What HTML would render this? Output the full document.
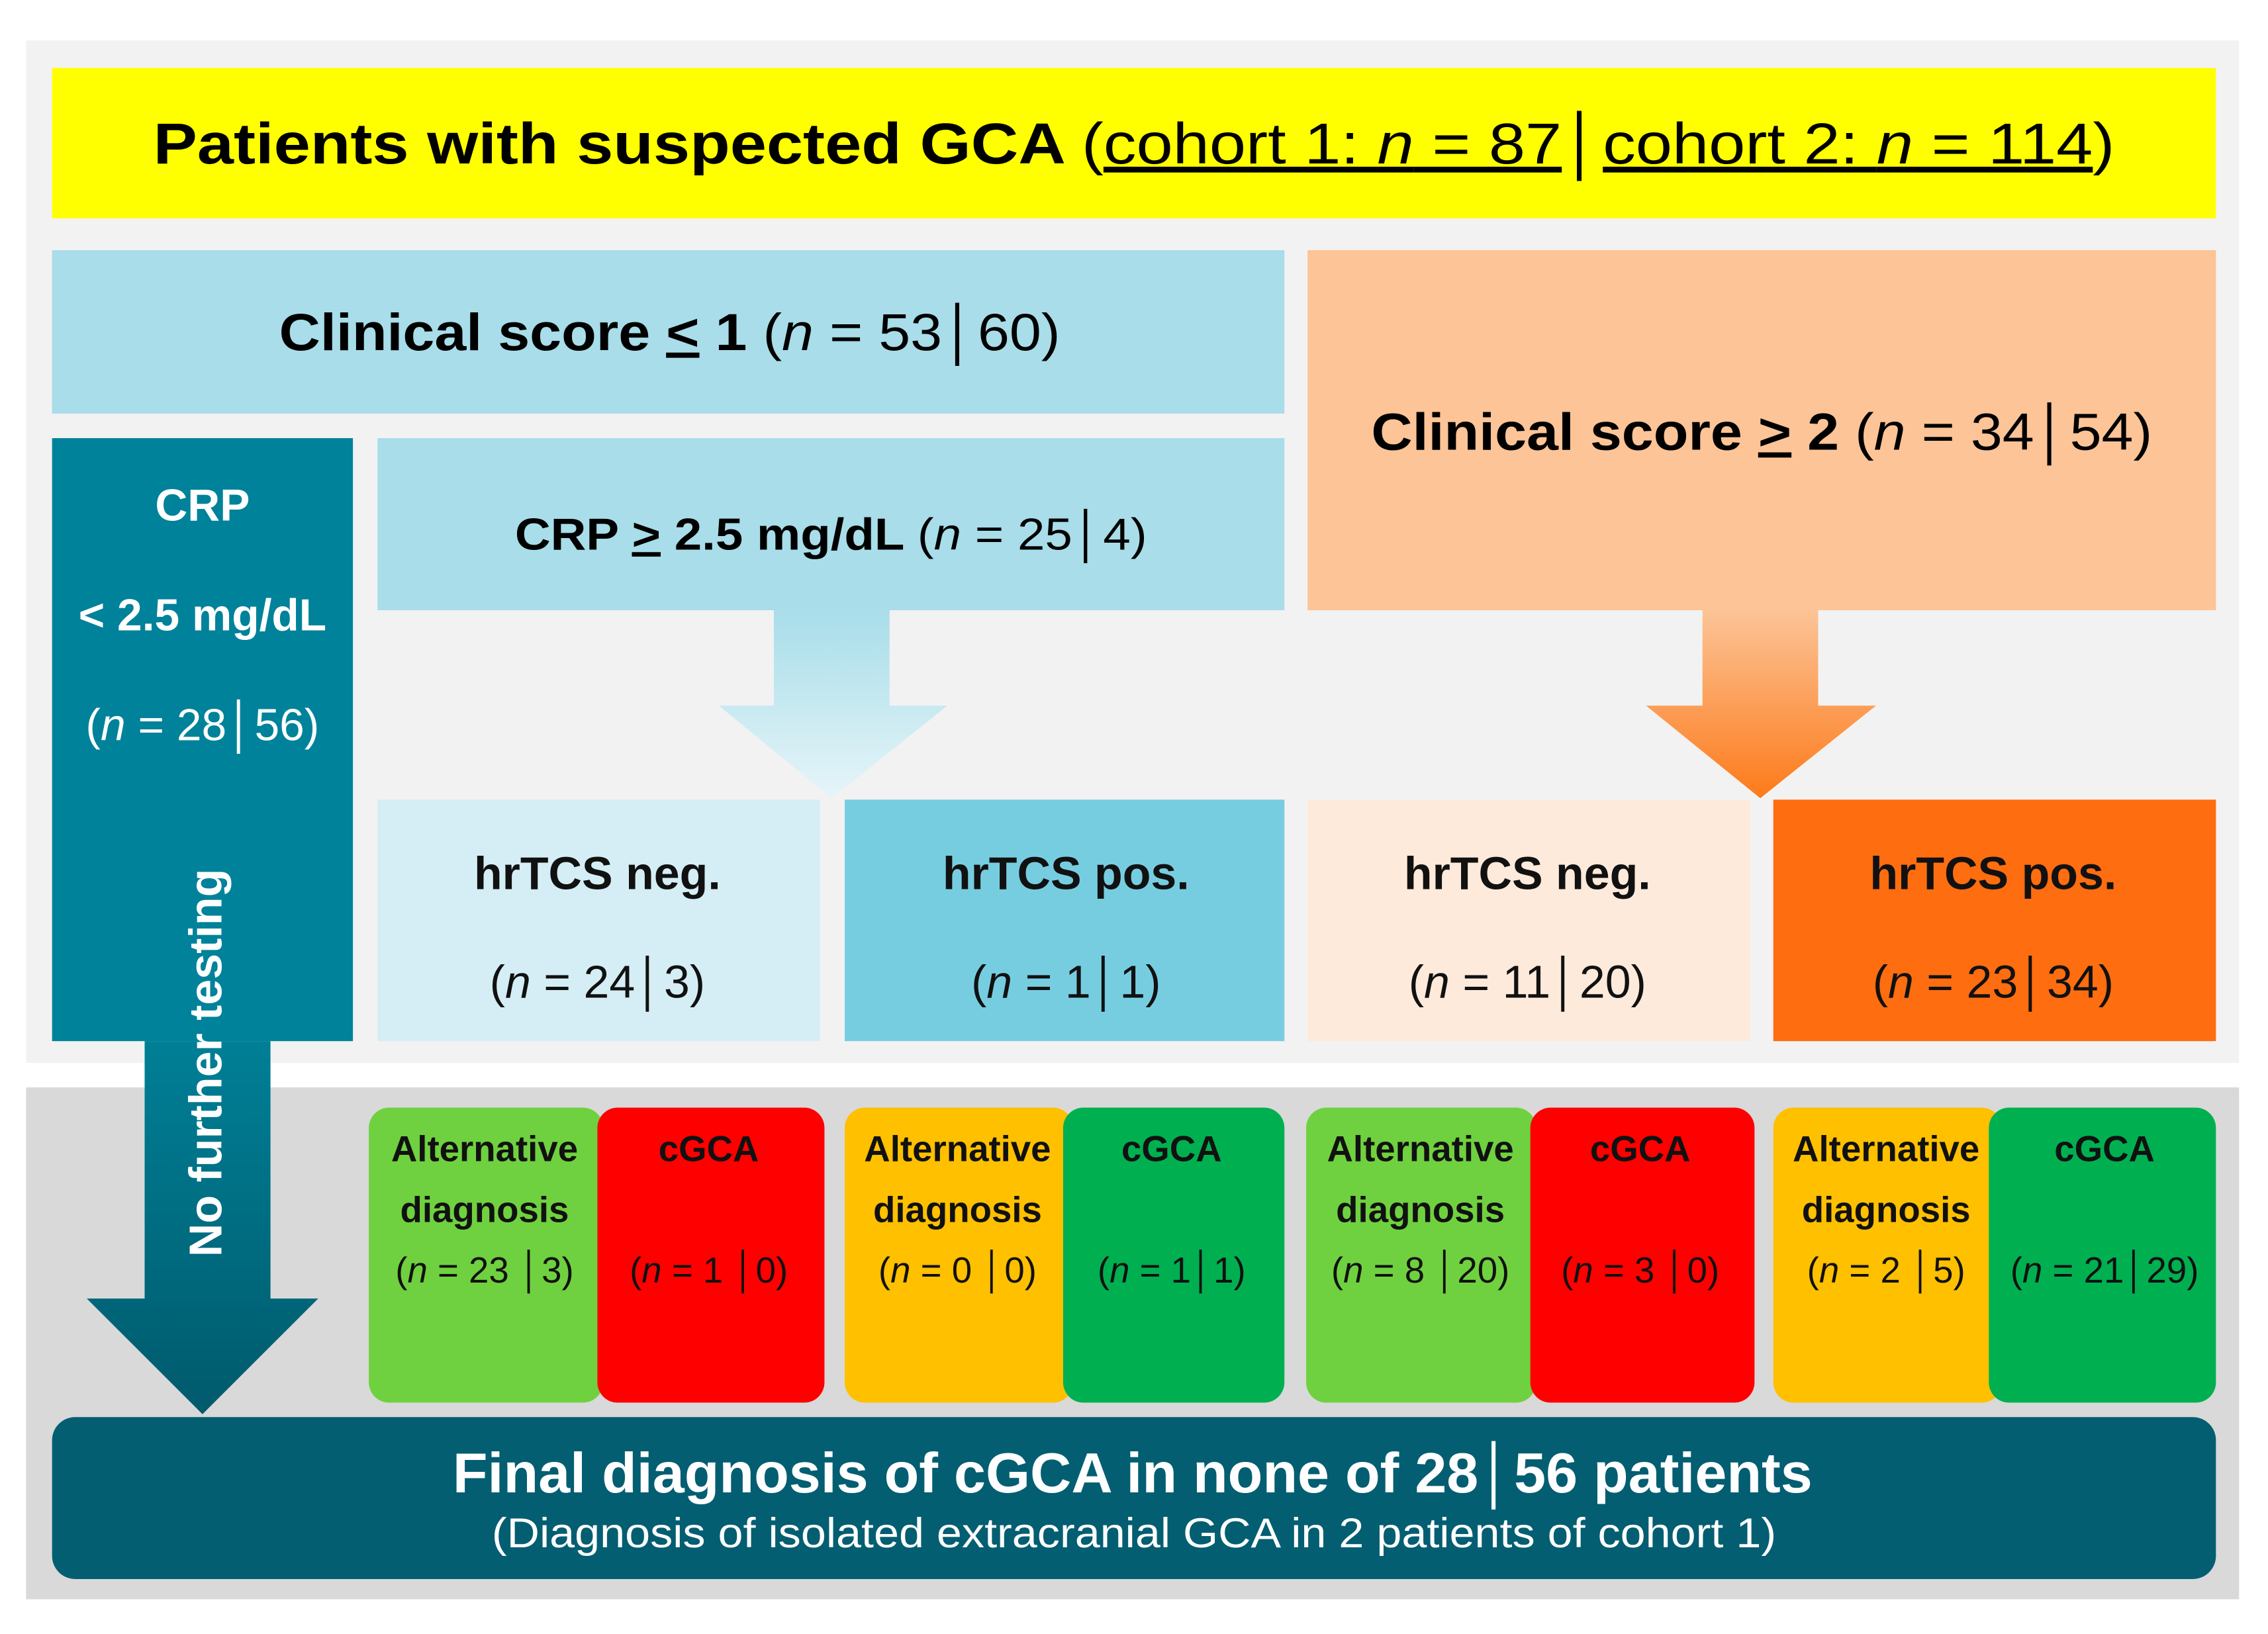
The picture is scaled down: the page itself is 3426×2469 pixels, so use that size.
<!DOCTYPE html>
<html><head><meta charset="utf-8"><style>
html,body{margin:0;padding:0;background:#fff}
svg{display:block}
text{font-family:"Liberation Sans Narrow","Liberation Sans",sans-serif}
</style></head><body>
<svg width="3426" height="2469" viewBox="0 0 1568 1130" xmlns="http://www.w3.org/2000/svg">
<defs>
<linearGradient id="gL" x1="0" y1="0" x2="0" y2="1"><stop offset="0" stop-color="#a8dde9"/><stop offset="1" stop-color="#e6f5f9"/></linearGradient>
<linearGradient id="gR" x1="0" y1="0" x2="0" y2="1"><stop offset="0" stop-color="#fcc497"/><stop offset="1" stop-color="#fd7a1a"/></linearGradient>
<linearGradient id="gB" x1="0" y1="0" x2="0" y2="1"><stop offset="0" stop-color="#007f96"/><stop offset="1" stop-color="#005a6c"/></linearGradient>
</defs>
<rect x="18" y="28" width="1530" height="707" fill="#f2f2f2"/>
<rect x="18" y="752" width="1530" height="354" fill="#d9d9d9"/>

<rect x="36" y="47" width="1496" height="104" fill="#ffff00"/>
<text x="106" y="113" font-size="40" textLength="1356" lengthAdjust="spacingAndGlyphs"><tspan font-weight="bold">Patients with suspected GCA </tspan><tspan>(</tspan><tspan text-decoration="underline">cohort 1: <tspan font-style="italic">n</tspan> = 87</tspan><tspan>│</tspan><tspan text-decoration="underline">cohort 2: <tspan font-style="italic">n</tspan> = 114</tspan><tspan>)</tspan></text>

<rect x="36" y="173" width="852" height="113" fill="#a8dde9"/>
<text x="193" y="242" font-size="36" textLength="540" lengthAdjust="spacingAndGlyphs"><tspan font-weight="bold">Clinical score <tspan text-decoration="underline">&lt;</tspan> 1 </tspan>(<tspan font-style="italic">n</tspan> = 53│60)</text>

<rect x="904" y="173" width="628" height="249" fill="#fcc497"/>
<text x="948" y="311" font-size="36" textLength="540" lengthAdjust="spacingAndGlyphs"><tspan font-weight="bold">Clinical score <tspan text-decoration="underline">&gt;</tspan> 2 </tspan>(<tspan font-style="italic">n</tspan> = 34│54)</text>

<rect x="36" y="303" width="208" height="417" fill="#00829a"/>
<g fill="#fff" font-size="31" text-anchor="middle">
<text x="140" y="360" font-weight="bold">CRP</text>
<text x="140" y="436" font-weight="bold">&lt; 2.5 mg/dL</text>
<text x="140" y="512">(<tspan font-style="italic">n</tspan> = 28│56)</text>
</g>

<rect x="261" y="303" width="627" height="119" fill="#a8dde9"/>
<text x="356" y="380" font-size="31" textLength="437" lengthAdjust="spacingAndGlyphs"><tspan font-weight="bold">CRP <tspan text-decoration="underline">&gt;</tspan> 2.5 mg/dL </tspan>(<tspan font-style="italic">n</tspan> = 25│4)</text>

<polygon points="535,422 615,422 615,488 655,488 575,552 497,488 535,488" fill="url(#gL)"/>
<polygon points="1177,422 1257,422 1257,488 1297,488 1217,552 1138,488 1177,488" fill="url(#gR)"/>

<rect x="261" y="553" width="306" height="167" fill="#d5eef5"/>
<rect x="584" y="553" width="304" height="167" fill="#77cde0"/>
<rect x="904" y="553" width="306" height="167" fill="#fdeadb"/>
<rect x="1226" y="553" width="306" height="167" fill="#fe6d10"/>
<g font-size="32" text-anchor="middle" fill="#111">
<text x="413" y="615" font-weight="bold">hrTCS neg.</text><text x="413" y="690">(<tspan font-style="italic">n</tspan> = 24│3)</text>
<text x="737" y="615" font-weight="bold">hrTCS pos.</text><text x="737" y="690">(<tspan font-style="italic">n</tspan> = 1│1)</text>
<text x="1056" y="615" font-weight="bold">hrTCS neg.</text><text x="1056" y="690">(<tspan font-style="italic">n</tspan> = 11│20)</text>
<text x="1378" y="615" font-weight="bold">hrTCS pos.</text><text x="1378" y="690">(<tspan font-style="italic">n</tspan> = 23│34)</text>
</g>

<polygon points="100,720 187,720 187,898 220,898 140,978 60,898 100,898" fill="url(#gB)"/>
<text transform="translate(153,735) rotate(-90)" text-anchor="middle" font-size="32" font-weight="bold" fill="#fff" font-family="Liberation Sans,sans-serif">No further testing</text>

<g>
<rect x="255" y="766" width="162" height="204" rx="14" fill="#6fd13f"/>
<rect x="413" y="766" width="157" height="204" rx="14" fill="#ff0000"/>
<rect x="584" y="766" width="158" height="204" rx="14" fill="#ffc000"/>
<rect x="735" y="766" width="153" height="204" rx="14" fill="#00b050"/>
<rect x="903" y="766" width="159" height="204" rx="14" fill="#6fd13f"/>
<rect x="1058" y="766" width="155" height="204" rx="14" fill="#ff0000"/>
<rect x="1226" y="766" width="158" height="204" rx="14" fill="#ffc000"/>
<rect x="1375" y="766" width="157" height="204" rx="14" fill="#00b050"/>
</g>
<g font-size="25" text-anchor="middle" fill="#111">
<text x="335" y="803" font-weight="bold">Alternative</text><text x="335" y="845" font-weight="bold">diagnosis</text><text x="335" y="887">(<tspan font-style="italic">n</tspan> = 23 │3)</text>
<text x="490" y="803" font-weight="bold">cGCA</text><text x="490" y="887">(<tspan font-style="italic">n</tspan> = 1 │0)</text>
<text x="662" y="803" font-weight="bold">Alternative</text><text x="662" y="845" font-weight="bold">diagnosis</text><text x="662" y="887">(<tspan font-style="italic">n</tspan> = 0 │0)</text>
<text x="810" y="803" font-weight="bold">cGCA</text><text x="810" y="887">(<tspan font-style="italic">n</tspan> = 1│1)</text>
<text x="982" y="803" font-weight="bold">Alternative</text><text x="982" y="845" font-weight="bold">diagnosis</text><text x="982" y="887">(<tspan font-style="italic">n</tspan> = 8 │20)</text>
<text x="1134" y="803" font-weight="bold">cGCA</text><text x="1134" y="887">(<tspan font-style="italic">n</tspan> = 3 │0)</text>
<text x="1304" y="803" font-weight="bold">Alternative</text><text x="1304" y="845" font-weight="bold">diagnosis</text><text x="1304" y="887">(<tspan font-style="italic">n</tspan> = 2 │5)</text>
<text x="1455" y="803" font-weight="bold">cGCA</text><text x="1455" y="887">(<tspan font-style="italic">n</tspan> = 21│29)</text>
</g>

<rect x="36" y="980" width="1496" height="112" rx="16" fill="#045e72"/>
<text x="313" y="1032" font-size="39" font-weight="bold" fill="#fff" textLength="940" lengthAdjust="spacingAndGlyphs">Final diagnosis of cGCA in none of 28│56 patients</text>
<text x="340" y="1070" font-size="29" fill="#fff" textLength="888" lengthAdjust="spacingAndGlyphs">(Diagnosis of isolated extracranial GCA in 2 patients of cohort 1)</text>
</svg>
</body></html>
